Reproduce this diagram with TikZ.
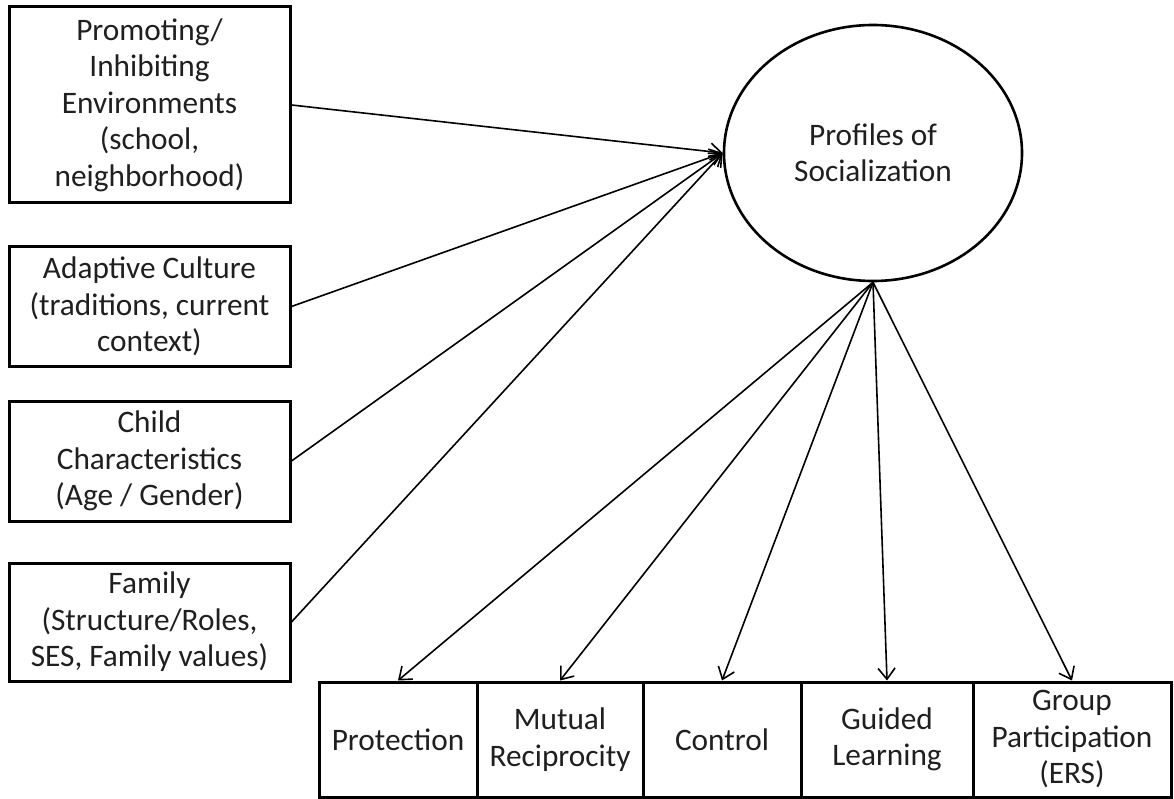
\documentclass[tikz,border=0pt]{standalone}
\usepackage{fontspec}
\setmainfont{Carlito}
\usetikzlibrary{shapes.geometric,arrows.meta}
\begin{document}
\begin{tikzpicture}[x=1pt,y=-1pt,
  every node/.style={font=\fontsize{31.3}{36.5}\selectfont, text=black!88, align=center, inner sep=0pt},
  leftbox/.style={draw, line width=3pt, minimum width=281pt},
  botbox/.style={draw, line width=3pt, minimum height=115pt},
  link/.style={line width=1.6pt, -{Straight Barb[length=11pt,width=17pt,line width=1.6pt]}}]
\useasboundingbox (0,0) rectangle (1174,799);
% left boxes
\node[leftbox, minimum height=196pt] (b1) at (149.5,105) {Promoting/\\Inhibiting\\Environments\\(school,\\neighborhood)};
\node[leftbox, minimum height=119pt] (b2) at (149.5,306.5) {Adaptive Culture\\(traditions, current\\context)};
\node[leftbox, minimum height=120pt] (b3) at (149.5,461) {Child\\Characteristics\\(Age / Gender)};
\node[leftbox, minimum height=118pt] (b4) at (149.5,622) {Family\\(Structure/Roles,\\SES, Family values)};
% ellipse
\node[draw, ellipse, line width=2.6pt, minimum width=298pt, minimum height=256pt] (ell) at (873,153) {Profiles of\\Socialization};
% bottom boxes
\node[botbox, minimum width=158pt] (p1) at (398,739.5) {Protection};
\node[botbox, minimum width=166pt] (p2) at (560,739.5) {Mutual\\Reciprocity};
\node[botbox, minimum width=158pt] (p3) at (722,739.5) {Control};
\node[botbox, minimum width=172pt] (p4) at (887,739.5) {Guided\\Learning};
\node[botbox, minimum width=198pt] (p5) at (1072,739.5) {Group\\Participation\\(ERS)};
% connectors
\foreach \b in {b1,b2,b3,b4} \draw[link] (\b.east) -- (ell.west);
\foreach \p in {p1,p2,p3,p4,p5} \draw[link] (ell.south) -- (\p.north);
\end{tikzpicture}
\end{document}
